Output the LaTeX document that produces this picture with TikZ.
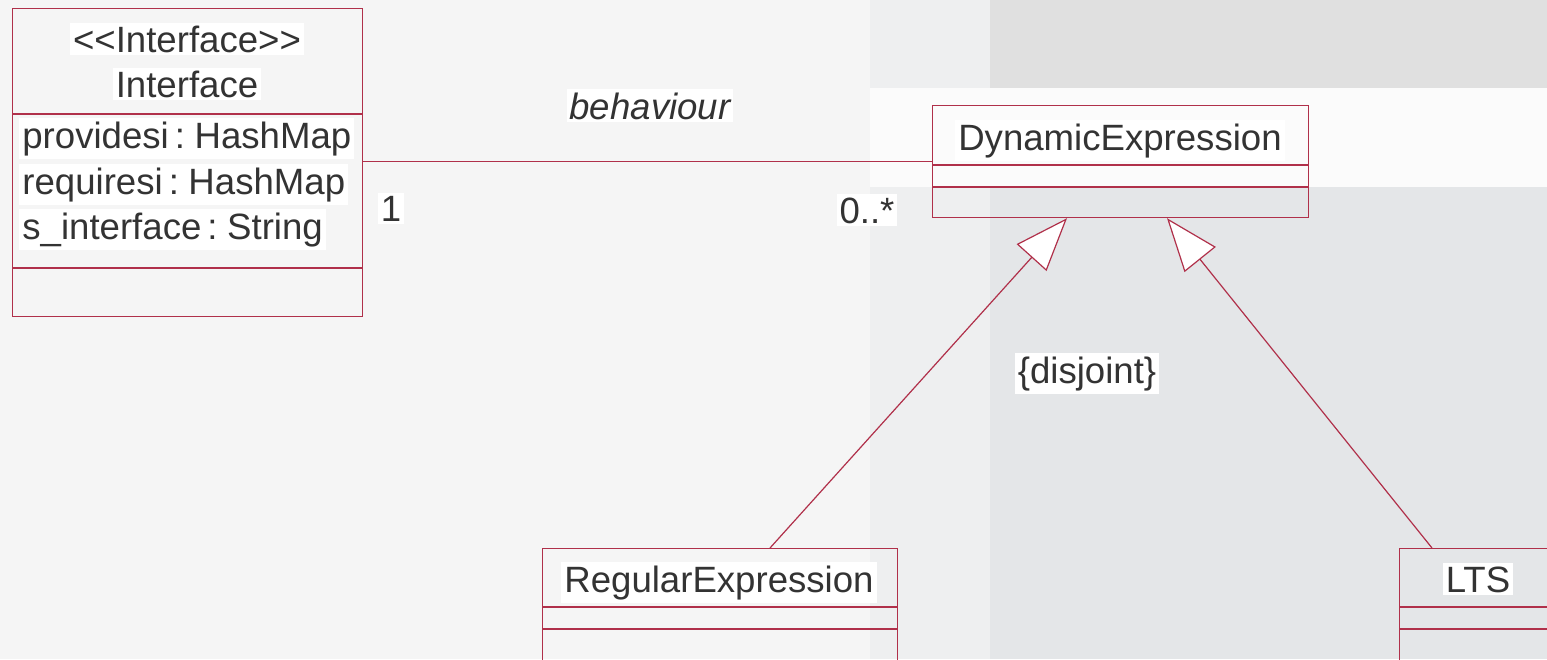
\documentclass[tikz,border=0pt]{standalone}
\usepackage{fontspec}
\setmainfont{Liberation Sans}[WordSpace=0.6]
\usetikzlibrary{arrows.meta,calc}
\definecolor{umlred}{HTML}{B0304A}
\definecolor{txt}{HTML}{333333}
\definecolor{bgA}{HTML}{F5F5F5}
\definecolor{bgB}{HTML}{EEEFF0}
\definecolor{bgC}{HTML}{E0E0E0}
\definecolor{bgD}{HTML}{E4E6E8}
\begin{document}
\begin{tikzpicture}[x=0.5pt,y=-0.5pt,
  font=\fontsize{18.3}{22}\selectfont,
  box/.style={draw=umlred, line width=0.6pt, anchor=north west, inner sep=0pt},
  lbl/.style={fill=white, inner sep=1.5pt, text=txt, anchor=base},
  attr/.style={fill=white, inner sep=1.5pt, text=txt, anchor=base west},
  sep/.style={draw=umlred, line width=0.6pt},
  assoc/.style={draw=umlred, line width=0.6pt},
  gen/.style={draw=umlred, line width=0.6pt, -{Triangle[length=26.5pt,width=20pt,fill=white]}}]
\path[use as bounding box] (0,0) rectangle (1547,659);
\clip (0,0) rectangle (1547,659);
% background
\fill[bgA] (0,0) rectangle (1547,659);
\fill[bgB] (870,0) rectangle (1547,659);
\fill[bgC] (990,0) rectangle (1547,88);
\fill[white!97!gray] (870,88) rectangle (1547,187);
\fill[bgD] (990,187) rectangle (1547,659);

% Interface class
\node[box, minimum width=175pt, minimum height=154pt] (iface) at (12,8) {};
\draw[sep] ($(iface.north west)+(0,106)$) -- ($(iface.north east)+(0,106)$);
\draw[sep] ($(iface.north west)+(0,260)$) -- ($(iface.north east)+(0,260)$);
\node[lbl] (ifst) at (187,52) {\textless\kern0pt\textless\kern0pt Interface\textgreater\kern0pt\textgreater};
\node[lbl] (ifnm) at (187,97) {Interface};
\node[attr] (a1) at (19,148) {providesi : HashMap};
\node[attr] (a2) at (19,194) {requiresi : HashMap};
\node[attr] (a3) at (19,239) {s\_interface : String};

% DynamicExpression class
\node[box, minimum width=188pt, minimum height=56pt] (de) at (932,105) {};
\draw[sep] ($(de.north west)+(0,60)$) -- ($(de.north east)+(0,60)$);
\draw[sep] ($(de.north west)+(0,82)$) -- ($(de.north east)+(0,82)$);
\node[lbl] (denm) at (1120,150) {DynamicExpression};

% RegularExpression class
\node[box, minimum width=177.5pt, minimum height=80pt] (re) at (542,548) {};
\draw[sep] ($(re.north west)+(0,59)$) -- ($(re.north east)+(0,59)$);
\draw[sep] ($(re.north west)+(0,81)$) -- ($(re.north east)+(0,81)$);
\node[lbl] (renm) at (719,592) {RegularExpression};

% LTS class
\node[box, minimum width=160pt, minimum height=80pt] (lts) at (1399,548) {};
\draw[sep] ($(lts.north west)+(0,59)$) -- ($(lts.north east)+(0,59)$);
\draw[sep] ($(lts.north west)+(0,81)$) -- ($(lts.north east)+(0,81)$);
\node[lbl] (ltsnm) at (1478,592) {LTS};

% association
\draw[assoc] (de.west -| iface.east) -- (de.west);
\node[lbl, font=\fontsize{18.3}{22}\selectfont\itshape] (beh) at (650,119) {behaviour};
\node[lbl] (m1) at (391,221) {1};
\node[lbl] (m2) at (867,223) {0..*};

% generalizations
\coordinate (t1) at ($(de.south west)+(135,0)$);
\coordinate (t2) at ($(de.south west)+(235,0)$);
\coordinate (s1) at ($(re.north west)+(228,0)$);
\coordinate (s2) at ($(lts.north west)+(33,0)$);
\draw[gen] (s1) -- (t1);
\draw[gen] (s2) -- (t2);
\node[lbl] (dj) at (1087,383) {\{disjoint\}};
\end{tikzpicture}
\end{document}
